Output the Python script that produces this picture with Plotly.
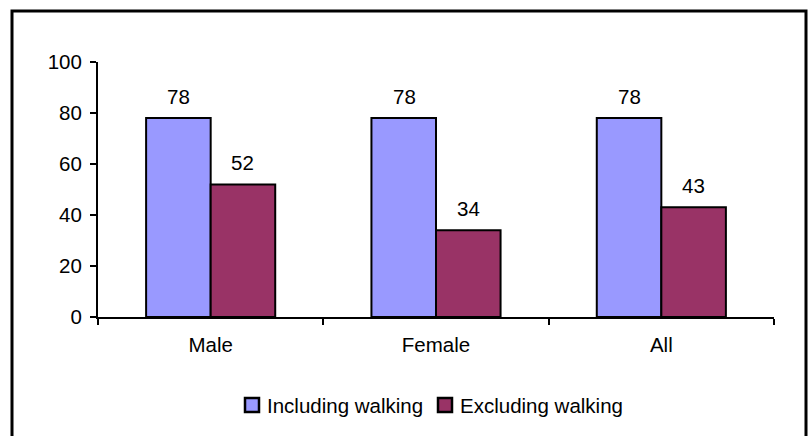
import plotly.graph_objects as go

# Share of people (%) by sex, with and without walking counted
categories = ["Male", "Female", "All"]
including_walking = [78, 78, 78]
excluding_walking = [52, 34, 43]
series_names = ["Including walking", "Excluding walking"]
series_colors = ["#9999FF", "#993366"]
y_ticks = [0, 20, 40, 60, 80, 100]

FONT = "Liberation Sans, Arial, sans-serif"
FS = 20.5

# plot area in pixels: x 98..774, y 62..317
PL, PR, PT, PB = 98, 774, 62, 317


def px_x(p):
    return (p - PL) / (PR - PL)


def px_y(p):
    return (PB - p) / (PB - PT)


fig = go.Figure()
for name, vals, col in zip(series_names, (including_walking, excluding_walking), series_colors):
    fig.add_trace(go.Bar(
        name=name, x=categories, y=vals,
        marker=dict(color=col, line=dict(color="black", width=2)),
        showlegend=False,
    ))

# value labels above each bar
half_bar_px = 32
for vals, shift in ((including_walking, -half_bar_px), (excluding_walking, half_bar_px)):
    for c, v in zip(categories, vals):
        fig.add_annotation(
            x=c, y=v, text=str(v), showarrow=False,
            xshift=shift, yshift=22, yanchor="middle",
            font=dict(family=FONT, size=FS, color="black"),
        )

# legend: swatch + label for each series
legend_items = [(245, 265), (438, 458)]
for (sx, tx), name, col in zip(legend_items, series_names, series_colors):
    fig.add_shape(
        type="rect", xref="paper", yref="paper",
        x0=px_x(sx), x1=px_x(sx + 14), y0=px_y(412), y1=px_y(398),
        line=dict(color="black", width=2.5), fillcolor=col,
    )
    fig.add_annotation(
        xref="paper", yref="paper", x=px_x(tx), y=px_y(405),
        xanchor="left", yanchor="middle", text=name, showarrow=False,
        font=dict(family=FONT, size=FS, color="black"),
    )

# outer frame
fig.add_shape(
    type="rect", xref="paper", yref="paper",
    x0=px_x(12), x1=px_x(806), y0=px_y(440), y1=px_y(11),
    line=dict(color="black", width=3), fillcolor="rgba(0,0,0,0)",
)

fig.update_layout(
    width=808, height=436,
    margin=dict(l=PL, r=808 - PR, t=PT, b=436 - PB),
    paper_bgcolor="white", plot_bgcolor="white",
    barmode="group", bargap=0.427, bargroupgap=0,
    font=dict(family=FONT, size=FS, color="black"),
    showlegend=False,
    xaxis=dict(
        showline=True, linecolor="black", linewidth=2,
        ticks="outside", tickson="boundaries", ticklen=6, tickwidth=2,
        tickcolor="black", showgrid=False, zeroline=False,
        ticklabelstandoff=8,
    ),
    yaxis=dict(
        range=[0, 100], tickvals=y_ticks,
        showline=True, linecolor="black", linewidth=2,
        ticks="outside", ticklen=6, tickwidth=2, tickcolor="black",
        showgrid=False, zeroline=False,
        ticklabelstandoff=4,
    ),
)

fig.write_html("out.html")
